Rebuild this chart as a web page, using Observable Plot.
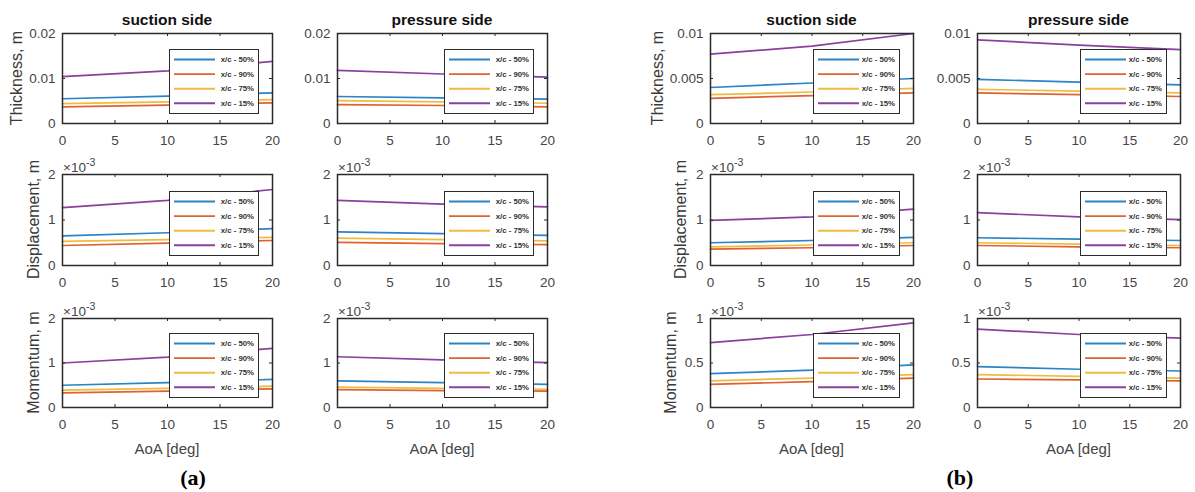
<!DOCTYPE html>
<html><head><meta charset="utf-8">
<script src="https://cdn.jsdelivr.net/npm/d3@7"></script>
<script src="https://cdn.jsdelivr.net/npm/@observablehq/plot@0.6"></script>
<style>
body{margin:0;background:#fff;}
#fig{position:relative;width:1195px;height:492px;overflow:hidden;background:#fff;font-family:"Liberation Sans",Arial,sans-serif;}
.abs{position:absolute;}
.legend{position:absolute;box-sizing:border-box;border:1.5px solid #2b2b2b;background:#fff;}
#overlay{position:absolute;left:0;top:0;pointer-events:none;}
</style></head>
<body><div id="fig"></div>
<script>
// ---------- data ----------
const aoa = [0, 10, 20];
const stations = ["x/c - 50%", "x/c - 90%", "x/c - 75%", "x/c - 15%"];
const stationColors = ["#2a84c6", "#df6232", "#f0bc40", "#8a409e"];
const xTicks = [0, 5, 10, 15, 20];

const aThicknessTicks = [0, 0.01, 0.02];
const aDisplacementTicks = [0, 1, 2];
const aMomentumTicks = [0, 1, 2];
const bThicknessTicks = [0, 0.005, 0.01];
const bDisplacementTicks = [0, 1, 2];
const bMomentumTicks = [0, 0.5, 1];

// values per station (order of `stations`) at AoA 0, 10, 20
// thickness in m, displacement and momentum in 1e-3 m
const aSuctionThickness = [[0.0055, 0.0061, 0.0068], [0.0037, 0.0041, 0.0046], [0.0044, 0.0048, 0.0053], [0.0104, 0.0117, 0.0138]];
const aPressureThickness = [[0.0060, 0.0057, 0.0054], [0.0042, 0.0040, 0.0037], [0.0051, 0.0048, 0.0045], [0.0118, 0.0110, 0.0103]];
const aSuctionDisplacement = [[0.65, 0.72, 0.81], [0.44, 0.49, 0.55], [0.53, 0.57, 0.62], [1.27, 1.43, 1.67]];
const aPressureDisplacement = [[0.74, 0.70, 0.66], [0.51, 0.48, 0.46], [0.60, 0.57, 0.54], [1.43, 1.35, 1.29]];
const aSuctionMomentum = [[0.50, 0.56, 0.63], [0.33, 0.37, 0.42], [0.39, 0.43, 0.48], [1.00, 1.13, 1.33]];
const aPressureMomentum = [[0.60, 0.56, 0.52], [0.40, 0.38, 0.37], [0.46, 0.43, 0.41], [1.14, 1.07, 1.01]];
const bSuctionThickness = [[0.0040, 0.0045, 0.0050], [0.0028, 0.0031, 0.0034], [0.0032, 0.0035, 0.0039], [0.0077, 0.0086, 0.0100]];
const bPressureThickness = [[0.0049, 0.0046, 0.0043], [0.0034, 0.0032, 0.0030], [0.0038, 0.0036, 0.0034], [0.0093, 0.0087, 0.0082]];
const bSuctionDisplacement = [[0.50, 0.55, 0.62], [0.36, 0.39, 0.44], [0.41, 0.45, 0.50], [0.99, 1.07, 1.24]];
const bPressureDisplacement = [[0.61, 0.58, 0.55], [0.44, 0.41, 0.39], [0.50, 0.47, 0.44], [1.16, 1.07, 1.01]];
const bSuctionMomentum = [[0.38, 0.42, 0.48], [0.26, 0.29, 0.33], [0.30, 0.33, 0.37], [0.73, 0.82, 0.95]];
const bPressureMomentum = [[0.46, 0.43, 0.41], [0.32, 0.31, 0.30], [0.37, 0.35, 0.33], [0.88, 0.82, 0.78]];

const columnTitles = ["suction side", "pressure side"];
const rowLabels = ["Thickness, m", "Displacement, m", "Momentum, m"];
const xLabel = "AoA [deg]";
const panelLabels = ["(a)", "(b)"];

// ---------- layout ----------
const fig = document.getElementById("fig");
const rowsCfg = [{top: 33, h: 90}, {top: 174, h: 91}, {top: 318, h: 89}];
const groups = [
  {cols: [{left: 62, w: 210}, {left: 337, w: 210}], legendW: 90,
   yTicks: [aThicknessTicks, aDisplacementTicks, aMomentumTicks],
   series: [[aSuctionThickness, aPressureThickness], [aSuctionDisplacement, aPressureDisplacement], [aSuctionMomentum, aPressureMomentum]],
   ylabX: [22, 38.5, 38.5], panelX: 193},
  {cols: [{left: 710, w: 203}, {left: 977, w: 203}], legendW: 87,
   yTicks: [bThicknessTicks, bDisplacementTicks, bMomentumTicks],
   series: [[bSuctionThickness, bPressureThickness], [bSuctionDisplacement, bPressureDisplacement], [bSuctionMomentum, bPressureMomentum]],
   ylabX: [662.5, 686, 676], panelX: 960}
];
const ink = "#2b2b2b", tickInk = "#454545";
const mL = 60, mR = 15, mT = 25, mB = 34;

function drawSubplot(left, top, w, h, yTicks, series) {
  const rows = [];
  series.forEach((vals, i) => vals.forEach((v, j) => rows.push({aoa: aoa[j], value: v, station: stations[i]})));
  const yMax = yTicks[yTicks.length - 1];
  const svg = Plot.plot({
    width: w + mL + mR, height: h + mT + mB,
    marginLeft: mL, marginRight: mR, marginTop: mT, marginBottom: mB,
    style: {fontFamily: "'Liberation Sans', Arial, sans-serif", fontSize: "13.5px", color: tickInk, background: "transparent", maxWidth: "none", overflow: "visible"},
    x: {domain: [0, 20]},
    y: {domain: [0, yMax]},
    color: {domain: stations, range: stationColors},
    marks: [
      Plot.line(rows, {x: "aoa", y: "value", stroke: "station", z: "station", strokeWidth: 1.7}),
      Plot.frame({stroke: ink, strokeWidth: 1.5}),
      Plot.ruleX(xTicks, {x: d => d, insetTop: h - 3, stroke: ink}),
      Plot.ruleX(xTicks, {x: d => d, insetBottom: h - 3, stroke: ink}),
      Plot.ruleY(yTicks, {y: d => d, insetRight: w - 3, stroke: ink}),
      Plot.ruleY(yTicks, {y: d => d, insetLeft: w - 3, stroke: ink}),
      Plot.axisX({ticks: xTicks, tickSize: 0, tickPadding: 12, label: null, tickFormat: d => String(d)}),
      Plot.axisY({ticks: yTicks, tickSize: 0, tickPadding: 7, label: null, tickFormat: d => String(d)})
    ]
  });
  const wrap = document.createElement("div");
  wrap.className = "abs";
  wrap.style.left = (left - mL) + "px";
  wrap.style.top = (top - mT) + "px";
  wrap.style.width = (w + mL + mR) + "px";
  wrap.appendChild(svg);
  fig.appendChild(wrap);
}

function drawLegend(right, bottom, lw) {
  const lh = 65;
  const div = document.createElement("div");
  div.className = "legend";
  div.style.left = (right - lw) + "px";
  div.style.top = (bottom - lh) + "px";
  div.style.width = lw + "px";
  div.style.height = lh + "px";
  const ns = "http://www.w3.org/2000/svg";
  const s = document.createElementNS(ns, "svg");
  s.setAttribute("width", lw - 3); s.setAttribute("height", lh - 3);
  s.style.display = "block";
  stations.forEach((name, i) => {
    const cy = 9.5 + i * 14.6;
    const ln = document.createElementNS(ns, "line");
    ln.setAttribute("x1", 4); ln.setAttribute("x2", 45);
    ln.setAttribute("y1", cy); ln.setAttribute("y2", cy);
    ln.setAttribute("stroke", stationColors[i]); ln.setAttribute("stroke-width", 1.9);
    s.appendChild(ln);
    const t = document.createElementNS(ns, "text");
    t.setAttribute("x", lw - 6); t.setAttribute("y", cy + 2.7);
    t.setAttribute("text-anchor", "end");
    t.setAttribute("font-size", "7.8px"); t.setAttribute("font-weight", "bold");
    t.setAttribute("font-family", "'Liberation Sans', Arial, sans-serif");
    t.setAttribute("fill", "#333");
    t.textContent = name;
    s.appendChild(t);
  });
  div.appendChild(s);
  fig.appendChild(div);
}

// overlay for titles / labels
const ns = "http://www.w3.org/2000/svg";
const overlay = document.createElementNS(ns, "svg");
overlay.setAttribute("id", "overlay");
overlay.setAttribute("width", 1195); overlay.setAttribute("height", 492);
function addText(str, x, y, opts = {}) {
  const t = document.createElementNS(ns, "text");
  t.setAttribute("x", x); t.setAttribute("y", y);
  t.setAttribute("text-anchor", opts.anchor || "middle");
  t.setAttribute("font-size", opts.size || "15px");
  t.setAttribute("font-family", opts.family || "'Liberation Sans', Arial, sans-serif");
  if (opts.weight) t.setAttribute("font-weight", opts.weight);
  t.setAttribute("fill", opts.fill || "#333");
  if (opts.rotate) t.setAttribute("transform", `rotate(${opts.rotate} ${x} ${y})`);
  t.textContent = str;
  overlay.appendChild(t);
  return t;
}

groups.forEach((g, gi) => {
  rowsCfg.forEach((r, ri) => {
    g.cols.forEach((c, ci) => {
      drawSubplot(c.left, r.top, c.w, r.h, g.yTicks[ri], g.series[ri][ci]);
      drawLegend(c.left + c.w - 13, r.top + r.h - 9, g.legendW);
      if (ri > 0) {
        const t = addText("×10", c.left + 1, r.top - 2.5, {anchor: "start", size: "13.5px", fill: tickInk});
        const sup = document.createElementNS(ns, "tspan");
        sup.setAttribute("font-size", "10.5px");
        sup.setAttribute("dy", "-5.5");
        sup.textContent = "-3";
        t.appendChild(sup);
      }
    });
    addText(rowLabels[ri], g.ylabX[ri], r.top + r.h / 2, {size: "16px", rotate: -90, fill: "#3a3a3a"});
  });
  g.cols.forEach((c, ci) => {
    addText(columnTitles[ci], c.left + c.w / 2, 25, {size: "15.5px", weight: "bold", fill: "#111"});
    addText(xLabel, c.left + c.w / 2, 454, {size: "15px", fill: tickInk});
  });
  addText(panelLabels[gi], g.panelX, 485, {size: "22px", weight: "bold", family: "'Liberation Serif', 'Times New Roman', serif", fill: "#000"});
});
fig.appendChild(overlay);
</script>
</body></html>
